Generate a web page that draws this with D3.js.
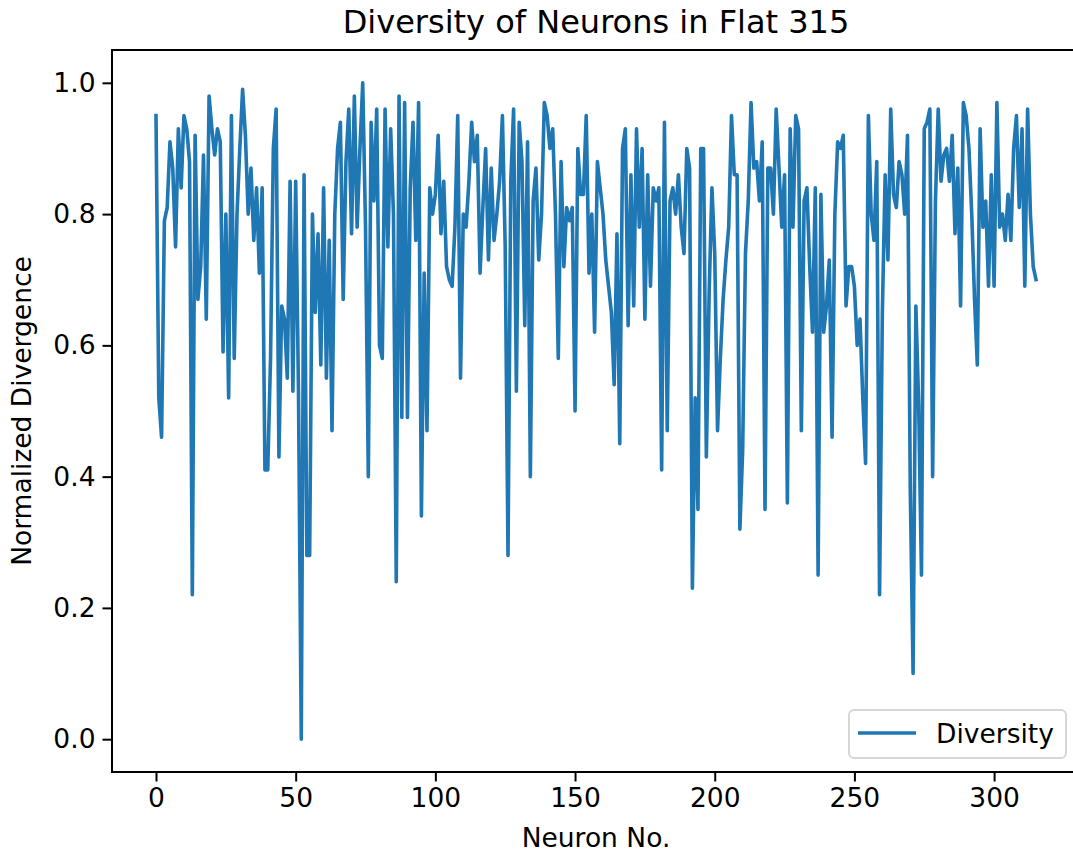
<!DOCTYPE html>
<html>
<head>
<meta charset="utf-8">
<script src="https://cdn.jsdelivr.net/npm/d3@7"></script>
<style>
  body { margin: 0; background: #fff; }
  svg { font-family: "DejaVu Sans", sans-serif; }
</style>
</head>
<body>
<svg width="1073" height="854"></svg>
<script>
// values, one per neuron (0..315)
const diversity = [
  0.95,0.52,0.46,0.79,0.81,0.91,0.87,0.75,0.93,0.84,
  0.95,0.93,0.88,0.22,0.92,0.67,0.72,0.89,0.64,0.98,
  0.93,0.89,0.93,0.91,0.59,0.80,0.52,0.95,0.58,0.80,
  0.90,0.99,0.92,0.80,0.87,0.76,0.84,0.71,0.84,0.41,
  0.41,0.58,0.90,0.96,0.43,0.66,0.64,0.55,0.85,0.53,
  0.85,0.53,0.00,0.86,0.28,0.28,0.80,0.65,0.77,0.57,
  0.84,0.55,0.76,0.47,0.80,0.90,0.94,0.67,0.88,0.96,
  0.77,0.98,0.78,0.90,1.00,0.78,0.40,0.94,0.82,0.96,
  0.60,0.58,0.96,0.75,0.93,0.80,0.24,0.98,0.49,0.97,
  0.49,0.84,0.94,0.76,0.97,0.34,0.71,0.47,0.84,0.80,
  0.83,0.92,0.77,0.85,0.72,0.70,0.69,0.78,0.95,0.55,
  0.80,0.78,0.85,0.94,0.88,0.92,0.71,0.81,0.90,0.73,
  0.87,0.76,0.80,0.85,0.95,0.75,0.28,0.85,0.96,0.53,
  0.94,0.88,0.63,0.91,0.40,0.82,0.87,0.73,0.80,0.97,
  0.95,0.90,0.93,0.80,0.58,0.88,0.72,0.81,0.79,0.81,
  0.50,0.90,0.83,0.83,0.95,0.71,0.80,0.62,0.88,0.84,
  0.80,0.73,0.69,0.65,0.54,0.77,0.45,0.90,0.93,0.63,
  0.86,0.66,0.93,0.78,0.90,0.64,0.86,0.69,0.84,0.82,
  0.84,0.41,0.94,0.47,0.82,0.84,0.80,0.86,0.78,0.74,
  0.90,0.87,0.23,0.52,0.35,0.90,0.90,0.43,0.68,0.84,
  0.74,0.47,0.58,0.67,0.73,0.78,0.95,0.86,0.86,0.32,
  0.44,0.74,0.82,0.97,0.87,0.88,0.82,0.91,0.35,0.87,
  0.87,0.80,0.96,0.87,0.78,0.86,0.36,0.93,0.78,0.95,
  0.93,0.47,0.82,0.84,0.72,0.62,0.84,0.25,0.83,0.62,
  0.66,0.73,0.46,0.80,0.91,0.90,0.92,0.66,0.72,0.72,
  0.69,0.60,0.64,0.52,0.42,0.95,0.80,0.76,0.88,0.22,
  0.65,0.86,0.73,0.96,0.83,0.81,0.88,0.86,0.80,0.92,
  0.38,0.10,0.66,0.51,0.25,0.93,0.94,0.96,0.40,0.82,
  0.96,0.85,0.89,0.90,0.85,0.92,0.77,0.87,0.66,0.97,
  0.95,0.90,0.80,0.67,0.57,0.93,0.78,0.82,0.69,0.86,
  0.69,0.97,0.78,0.80,0.76,0.83,0.76,0.90,0.95,0.81,
  0.93,0.69,0.96,0.80,0.72,0.70
];
const xTicks = [0, 50, 100, 150, 200, 250, 300];
const yTicks = [0.0, 0.2, 0.4, 0.6, 0.8, 1.0];
const seriesName = 'Diversity';

const svg = d3.select('svg');

// plot box (right spine falls just outside the picture, like the reference)
const margin = {top: 50, left: 112};
const graphWidth = 968;
const graphHeight = 722;
const graph = svg.append('g')
  .attr('transform', `translate(${margin.left},${margin.top})`);

const n = diversity.length - 1;
const x = d3.scaleLinear()
  .domain([-0.05 * n, n * 1.05])
  .range([0, graphWidth]);
const y = d3.scaleLinear()
  .domain([-0.05, 1.05])
  .range([graphHeight, 0]);

// line
const line = d3.line()
  .x((d, i) => x(i))
  .y(d => y(d));

graph.append('path')
  .datum(diversity)
  .attr('fill', 'none')
  .attr('stroke', '#1f77b4')
  .attr('stroke-width', 3.6)
  .attr('stroke-linejoin', 'round')
  .attr('stroke-linecap', 'square')
  .attr('d', line);

// frame
graph.append('rect')
  .attr('width', graphWidth)
  .attr('height', graphHeight)
  .attr('fill', 'none')
  .attr('stroke', '#000')
  .attr('stroke-width', 2);

// axes
const xAxis = d3.axisBottom(x)
  .tickValues(xTicks)
  .tickSize(9.5)
  .tickPadding(7)
  .tickSizeOuter(0);
const yAxis = d3.axisLeft(y)
  .tickValues(yTicks)
  .tickFormat(d3.format('.1f'))
  .tickSize(9.5)
  .tickPadding(7)
  .tickSizeOuter(0);

const xAxisGroup = graph.append('g')
  .attr('transform', `translate(0, ${graphHeight})`)
  .call(xAxis);
const yAxisGroup = graph.append('g')
  .call(yAxis);

[xAxisGroup, yAxisGroup].forEach(g => {
  g.select('.domain').remove();
  g.selectAll('line').attr('stroke', '#000').attr('stroke-width', 2);
  g.selectAll('text')
    .attr('fill', '#000')
    .style('font-size', '26.5px')
    .style('font-family', '"DejaVu Sans", sans-serif');
});

// labels
svg.append('text')
  .attr('x', margin.left + graphWidth / 2)
  .attr('y', 33)
  .attr('text-anchor', 'middle')
  .style('font-size', '32px')
  .text('Diversity of Neurons in Flat 315');

svg.append('text')
  .attr('x', 596)
  .attr('y', 847)
  .attr('text-anchor', 'middle')
  .style('font-size', '26.5px')
  .text('Neuron No.');

svg.append('text')
  .attr('transform', 'translate(31, 411) rotate(-90)')
  .attr('text-anchor', 'middle')
  .style('font-size', '26.5px')
  .text('Normalized Divergence');

// legend, lower right
const legend = svg.append('g')
  .attr('transform', 'translate(849, 710)');
legend.append('rect')
  .attr('width', 217)
  .attr('height', 48)
  .attr('rx', 5)
  .attr('fill', '#fff')
  .attr('fill-opacity', 0.8)
  .attr('stroke', '#d6d6d6')
  .attr('stroke-width', 2);
legend.append('line')
  .attr('x1', 9).attr('x2', 67)
  .attr('y1', 23).attr('y2', 23)
  .attr('stroke', '#1f77b4')
  .attr('stroke-width', 3.6);
legend.append('text')
  .attr('x', 87)
  .attr('y', 33)
  .style('font-size', '26.5px')
  .text(seriesName);
</script>
</body>
</html>
